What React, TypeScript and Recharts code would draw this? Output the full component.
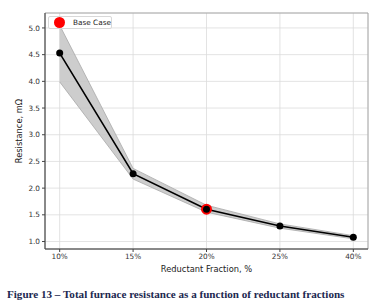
import React from 'react';
import {
  ComposedChart,
  Line,
  Area,
  Scatter,
  XAxis,
  YAxis,
  CartesianGrid,
  ReferenceArea,
  Label,
} from 'recharts';

// reductant fraction categories (plotted at index positions)
const fractions = ['10%', '15%', '20%', '25%', '40%'];
const resistance = [4.53, 2.27, 1.605, 1.29, 1.08];
const bandLow = [3.99, 2.17, 1.55, 1.25, 1.05];
const bandHigh = [5.05, 2.37, 1.68, 1.33, 1.11];
const baseCaseIndex = 2;
const yTicks = [1.0, 1.5, 2.0, 2.5, 3.0, 3.5, 4.0, 4.5, 5.0];

const chartData = fractions.map((f, i) => ({
  x: i,
  name: f,
  r: resistance[i],
  band: [bandLow[i], bandHigh[i]],
}));

const baseCase = [{ x: baseCaseIndex, r: resistance[baseCaseIndex] }];

const tickStyle = { fontSize: 7.3, fill: '#333', fontFamily: 'DejaVu Sans' };

const App: React.FC = () => {
  return (
    <div style={{ position: 'absolute', left: 0, top: 0, width: 384, height: 306, background: '#fff' }}>
      <ComposedChart
        width={384}
        height={280}
        data={chartData}
        margin={{ top: 13, right: 16, left: 0, bottom: 0 }}
      >
        <CartesianGrid stroke="#dcdcdc" strokeWidth={0.8} />
        <XAxis
          type="number"
          dataKey="x"
          domain={[-0.2, 4.2]}
          ticks={[0, 1, 2, 3, 4]}
          tickFormatter={(i: number) => fractions[i]}
          allowDataOverflow
          height={31}
          tick={tickStyle}
          tickSize={3}
          stroke="#444"
        >
          <Label
            value="Reductant Fraction, %"
            position="insideBottom"
            offset={8}
            style={{ fontSize: 8.3, fill: '#222', fontFamily: 'DejaVu Sans' }}
          />
        </XAxis>
        <YAxis
          type="number"
          domain={[0.86, 5.28]}
          ticks={yTicks}
          tickFormatter={(v: number) => v.toFixed(1)}
          allowDataOverflow
          width={45}
          tick={tickStyle}
          tickSize={3}
          stroke="#444"
        >
          <Label
            value="Resistance, mΩ"
            angle={-90}
            position="insideLeft"
            offset={19}
            style={{ textAnchor: 'middle', fontSize: 8.3, fill: '#222', fontFamily: 'DejaVu Sans' }}
          />
        </YAxis>
        <ReferenceArea x1={-0.2} x2={4.2} y1={0.86} y2={5.28} fill="none" stroke="#999" strokeWidth={0.8} ifOverflow="visible" />
        <Area
          dataKey="band"
          type="linear"
          fill="#c4c4c4"
          fillOpacity={0.85}
          stroke="#a8a8a8"
          strokeWidth={0.8}
          isAnimationActive={false}
        />
        <Scatter data={baseCase} dataKey="r" fill="#ff0000" shape={(p: any) => <circle cx={p.cx} cy={p.cy} r={5.5} fill="#ff0000" />} isAnimationActive={false} />
        <Line
          dataKey="r"
          type="linear"
          stroke="#000"
          strokeWidth={1.6}
          dot={{ r: 3.5, fill: '#000', stroke: '#000', strokeWidth: 0 }}
          isAnimationActive={false}
        />
      </ComposedChart>
      <div
        style={{
          position: 'absolute',
          left: 48,
          top: 16,
          width: 64,
          height: 13,
          background: '#fff',
          border: '1px solid #d8d8d8',
          borderRadius: 2,
          boxSizing: 'border-box',
          display: 'flex',
          alignItems: 'center',
          fontFamily: 'DejaVu Sans',
          fontSize: 7.3,
          color: '#222',
        }}
      >
        <span style={{ display: 'inline-block', width: 11, height: 11, borderRadius: '50%', background: '#ff0000', marginLeft: 5, marginRight: 8 }} />
        Base Case
      </div>
      <div
        style={{
          position: 'absolute',
          left: 7,
          top: 288,
          fontFamily: 'Liberation Serif',
          fontWeight: 'bold',
          fontSize: 11.1,
          color: '#1c2850',
          whiteSpace: 'nowrap',
        }}
      >
        Figure 13 – Total furnace resistance as a function of reductant fractions
      </div>
    </div>
  );
};

export default App;
